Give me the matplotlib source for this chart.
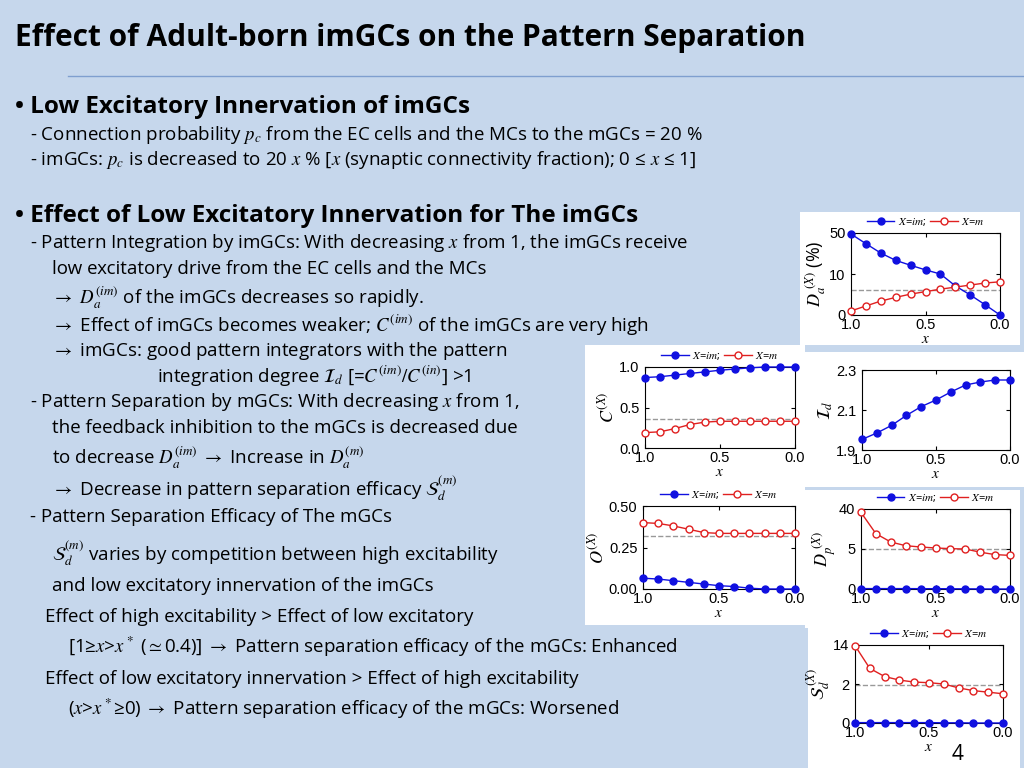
import numpy as np
import matplotlib
matplotlib.use("Agg")
import matplotlib.pyplot as plt
from matplotlib.patches import Rectangle

plt.rcParams['font.family'] = 'Open Sans'
plt.rcParams['mathtext.fontset'] = 'stix'

BG = '#c6d7ec'
BLUE = '#1010e0'
RED = '#e02020'

x = [1.0, 0.9, 0.8, 0.7, 0.6, 0.5, 0.4, 0.3, 0.2, 0.1, 0.0]

da_im = [49, 39.6, 30.4, 23.3, 18.5, 14, 10, 7.1, 4.9, 2.5, 0.0]
da_m = [1.0, 2.2, 3.4, 4.3, 5.1, 5.7, 6.3, 6.8, 7.3, 7.8, 8.1]
da_ref = 6.0
da_ticks = [0, 10, 50]

id_im = [1.953, 1.985, 2.023, 2.073, 2.117, 2.15, 2.19, 2.225, 2.24, 2.25, 2.25]
id_ticks = [1.9, 2.1, 2.3]

c_im = [0.87, 0.88, 0.90, 0.92, 0.94, 0.96, 0.975, 0.99, 1.0, 1.0, 1.0]
c_m = [0.19, 0.20, 0.24, 0.29, 0.32, 0.33, 0.33, 0.33, 0.33, 0.33, 0.33]
c_ref = 0.36
c_ticks = [0.0, 0.5, 1.0]

o_im = [0.065, 0.06, 0.05, 0.04, 0.03, 0.02, 0.015, 0.005, 0.0, 0.0, 0.0]
o_m = [0.40, 0.395, 0.38, 0.36, 0.34, 0.335, 0.335, 0.335, 0.335, 0.335, 0.335]
o_ref = 0.32
o_ticks = [0.0, 0.25, 0.5]

dp_im = [0.05, 0.05, 0.05, 0.05, 0.04, 0.04, 0.03, 0.02, 0.01, 0.0, 0.0]
dp_m = [37, 18.4, 11.1, 7.9, 6.75, 5.9, 5.3, 5.0, 4.6, 4.3, 4.2]
dp_ref = 5.0
dp_ticks = [0, 5, 40]

sd_im = [0.02, 0.02, 0.02, 0.02, 0.02, 0.02, 0.01, 0.01, 0.0, 0.0, 0.0]
sd_m = [13.8, 6.8, 4.3, 3.2, 2.6, 2.4, 2.0, 1.8, 1.66, 1.58, 1.5]
sd_ref = 1.95
sd_ticks = [0, 2, 14]

W, H = 1024, 768
fig = plt.figure(figsize=(10.24, 7.68), dpi=100)
fig.patch.set_facecolor(BG)


def px(x0, y0, w, h):
    return [x0 / W, 1 - (y0 + h) / H, w / W, h / H]


def broken_scale(ticks):
    # piecewise-linear axis: equal spacing between the three tick values
    pos = [0, 1, 2]
    f = lambda v: np.interp(v, ticks, pos)
    g = lambda v: np.interp(v, pos, ticks)
    return f, g


def fmt(t, ticks):
    if isinstance(t, int):
        return str(t)
    if ticks[-1] == 0.5:
        return '%.2f' % t
    return '%.1f' % t


def panel(rect, arect, ylabel, ticks, im=None, m=None, ref=None, legend=True, broken=False):
    fig.add_artist(Rectangle((rect[0] / W, 1 - (rect[1] + rect[3]) / H), rect[2] / W, rect[3] / H,
                             transform=fig.transFigure, facecolor='white', edgecolor='none', zorder=0))
    ax = fig.add_axes(px(*arect))
    if broken:
        ax.set_yscale('function', functions=broken_scale(ticks))
    if im is not None:
        ax.plot(x, im, '-o', color=BLUE, ms=5, lw=1, clip_on=False, zorder=3, label='$X$=$im$;')
    if m is not None:
        ax.plot(x, m, '-o', color=RED, mfc='white', ms=5, lw=1, clip_on=False, zorder=3, label='$X$=$m$')
    if ref is not None:
        ax.axhline(ref, color='#999999', ls='--', lw=1, zorder=1)
    ax.set_xlim(1.0, 0.0)
    ax.set_ylim(ticks[0], ticks[-1])
    ax.set_xticks([1.0, 0.5, 0.0])
    ax.set_xticklabels(['1.0', '0.5', '0.0'])
    ax.set_yticks(ticks)
    ax.set_yticklabels([fmt(t, ticks) for t in ticks])
    ax.tick_params(labelsize=10.5, direction='in', length=3, top=True, right=True, pad=2,
                   labelfontfamily='Liberation Sans')
    ax.tick_params(axis='y', pad=4)
    ax.set_xlabel('$x$', fontsize=11, labelpad=0)
    ax.set_ylabel(ylabel, fontsize=13, labelpad=1)
    if legend:
        ax.legend(loc='lower center', bbox_to_anchor=(0.5, 0.98), ncol=2, frameon=False,
                  fontsize=8, handlelength=2.5, columnspacing=0.3, handletextpad=0.3, borderpad=0.1)
    return ax


panel((800, 212, 220, 133), (851, 233, 149, 82), r'$D_a^{\ (X)}$ (%)', da_ticks, da_im, da_m, da_ref, broken=True)
panel((585, 345, 220, 142), (645, 367, 150, 81), r'$C^{(X)}$', c_ticks, c_im, c_m, c_ref)
panel((805, 352, 219, 135), (862, 370, 148, 80), r'$\mathcal{I}_d$', id_ticks, id_im, legend=False)
panel((585, 487, 220, 138), (643, 506, 152, 83), r'$O^{(X)}$', o_ticks, o_im, o_m, o_ref)
panel((805, 490, 215, 138), (861, 509, 149, 80), r'$D_p^{\ (X)}$', dp_ticks, dp_im, dp_m, dp_ref, broken=True)
panel((808, 628, 212, 140), (855, 645, 148, 78), r'$\mathcal{S}_d^{\ (X)}$', sd_ticks, sd_im, sd_m, sd_ref, broken=True)


def t(xp, yp, s, size=13.5, **kw):
    fig.text(xp / W, 1 - yp / H, s, fontsize=size, va='center', ha='left', **kw)


t(15, 38, 'Effect of Adult-born imGCs on the Pattern Separation', 21.5, weight='bold')
fig.add_artist(plt.Line2D([68 / W, 1], [1 - 76 / H] * 2, color='#7f9fcf', lw=1, transform=fig.transFigure))

t(15, 107, '• Low Excitatory Innervation of imGCs', 17.5, weight='bold')
t(30, 135, r'- Connection probability $p_c$ from the EC cells and the MCs to the mGCs = 20 %')
t(30, 160, r'- imGCs: $p_c$ is decreased to 20 $x$ % [$x$ (synaptic connectivity fraction); 0 ≤ $x$ ≤ 1]')
t(15, 216, '• Effect of Low Excitatory Innervation for The imGCs', 17.5, weight='bold')
t(30, 243, r'- Pattern Integration by imGCs: With decreasing $x$ from 1, the imGCs receive')
t(52, 269, 'low excitatory drive from the EC cells and the MCs')
t(52, 298, r'$\rightarrow$ $D_a^{(im)}$ of the imGCs decreases so rapidly.')
t(52, 325, r'$\rightarrow$ Effect of imGCs becomes weaker; $C^{(im)}$ of the imGCs are very high')
t(52, 351, r'$\rightarrow$ imGCs: good pattern integrators with the pattern')
t(157, 376, r'integration degree $\mathcal{I}_d$ [=$C^{(im)}/C^{(in)}$] >1')
t(30, 402, r'- Pattern Separation by mGCs: With decreasing $x$ from 1,')
t(52, 428, 'the feedback inhibition to the mGCs is decreased due')
t(52, 458, r'to decrease $D_a^{(im)}$ $\rightarrow$ Increase in $D_a^{(m)}$')
t(52, 488, r'$\rightarrow$ Decrease in pattern separation efficacy $\mathcal{S}_d^{(m)}$')
t(30, 517, '- Pattern Separation Efficacy of The mGCs')
t(52, 553, r'$\mathcal{S}_d^{(m)}$ varies by competition between high excitability')
t(52, 586, 'and low excitatory innervation of the imGCs')
t(45, 617, 'Effect of high excitability > Effect of low excitatory')
t(68, 647, r'[1≥$x$>$x^*$ ($\simeq$0.4)] $\rightarrow$ Pattern separation efficacy of the mGCs: Enhanced')
t(45, 679, 'Effect of low excitatory innervation > Effect of high excitability')
t(68, 709, r'($x$>$x^*$≥0) $\rightarrow$ Pattern separation efficacy of the mGCs: Worsened')
t(952, 755, '4', 15)

fig.savefig('out.png', dpi=100, facecolor=BG)
